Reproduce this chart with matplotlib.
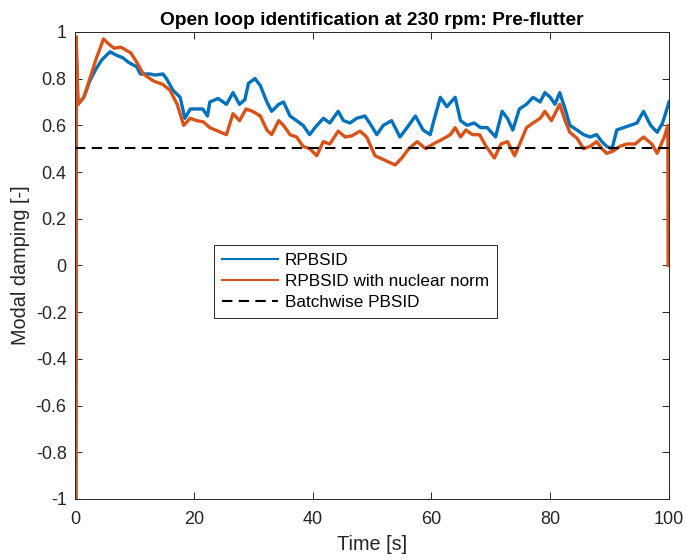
import matplotlib
matplotlib.use('Agg')
import matplotlib.pyplot as plt

# (time [s], damping)
rpbsid = [
    (0.15, -1), (0.2, 0.93), (0.5, 0.69), (1.5, 0.72), (2.5, 0.79), (3.5, 0.84),
    (4.5, 0.88), (5.9, 0.915), (7, 0.90), (8, 0.89), (9, 0.87), (10.4, 0.85),
    (11, 0.82), (12.6, 0.82), (13.5, 0.815), (14.8, 0.82), (15.4, 0.80),
    (16.5, 0.75), (17.7, 0.72), (18.5, 0.63), (19.4, 0.67), (20.5, 0.67),
    (21.5, 0.67), (22.3, 0.64), (22.7, 0.70), (24.1, 0.715), (25.5, 0.69),
    (26.6, 0.74), (27.7, 0.69), (28.6, 0.71), (29.2, 0.78), (30.3, 0.80),
    (31.2, 0.77), (32.3, 0.70), (33.1, 0.66), (34.3, 0.69), (35.1, 0.70),
    (36.2, 0.64), (37.3, 0.62), (38.4, 0.60), (39.5, 0.56), (40.4, 0.59),
    (41.8, 0.63), (42.9, 0.61), (44.3, 0.66), (45.2, 0.62), (46.3, 0.61),
    (47.4, 0.63), (48.8, 0.64), (49.6, 0.61), (50.8, 0.56), (51.9, 0.60),
    (53.3, 0.62), (54.7, 0.55), (55.9, 0.59), (57.3, 0.64), (58.6, 0.58),
    (59.8, 0.56), (60.3, 0.61), (61.5, 0.72), (62.6, 0.68), (64, 0.72),
    (64.9, 0.62), (66, 0.60), (67.2, 0.61), (68.3, 0.59), (69.4, 0.59),
    (70.8, 0.55), (71.9, 0.66), (72.8, 0.63), (73.7, 0.58), (74.8, 0.67),
    (76, 0.69), (77.1, 0.72), (78.3, 0.70), (79.1, 0.74), (80, 0.72),
    (80.8, 0.69), (81.6, 0.74), (82.5, 0.67), (83.3, 0.60), (84.5, 0.58),
    (85.6, 0.56), (86.7, 0.55), (87.8, 0.56), (88.7, 0.53), (89.5, 0.51),
    (90.4, 0.50), (91.2, 0.58), (92.3, 0.59), (93.5, 0.60), (94.6, 0.61),
    (95.7, 0.66), (96.9, 0.60), (98, 0.57), (98.9, 0.61), (100, 0.70),
]

rpbsid_nuc = [
    (0.15, -1), (0.2, 0.98), (0.5, 0.69), (1.5, 0.72), (2.5, 0.80), (3.5, 0.88),
    (4.8, 0.97), (5.6, 0.95), (6.6, 0.93), (7.7, 0.935), (9.4, 0.91),
    (10.4, 0.87), (11.5, 0.82), (13.2, 0.79), (14.8, 0.775), (16, 0.75),
    (17.2, 0.69), (18.3, 0.60), (19.4, 0.63), (20.5, 0.62), (21.6, 0.615),
    (22.7, 0.59), (24.1, 0.575), (25.5, 0.56), (26.6, 0.65), (27.7, 0.62),
    (28.8, 0.67), (29.9, 0.66), (31.2, 0.64), (32.3, 0.58), (33.1, 0.56),
    (34.3, 0.62), (35.1, 0.60), (36.2, 0.56), (37.3, 0.55), (38.4, 0.51),
    (39.5, 0.50), (40.7, 0.47), (41.8, 0.53), (42.9, 0.52), (44.3, 0.575),
    (45.5, 0.55), (46.6, 0.555), (48, 0.575), (49.1, 0.55), (50.5, 0.47),
    (52.2, 0.45), (53.9, 0.43), (55, 0.46), (56.2, 0.50), (57.6, 0.53),
    (59, 0.50), (60.3, 0.52), (61.8, 0.54), (63.2, 0.56), (64, 0.59),
    (64.9, 0.55), (65.8, 0.58), (66.9, 0.56), (68.1, 0.56), (69.2, 0.51),
    (70.6, 0.46), (71.7, 0.52), (72.8, 0.53), (74, 0.47), (75.2, 0.54),
    (76, 0.59), (77.1, 0.61), (78.3, 0.63), (79.1, 0.66), (80.2, 0.62),
    (81, 0.66), (81.6, 0.69), (82.5, 0.62), (83.3, 0.57), (84.5, 0.545),
    (85.6, 0.50), (86.7, 0.51), (87.8, 0.53), (88.7, 0.50), (89.5, 0.48),
    (90.6, 0.49), (91.7, 0.51), (92.9, 0.52), (94.3, 0.52), (95.7, 0.55),
    (97.1, 0.52), (98, 0.48), (99.2, 0.55), (99.8, 0.60), (99.85, 0.0),
]

batch_value = 0.505
labels = ['RPBSID', 'RPBSID with nuclear norm', 'Batchwise PBSID']
y_ticks = [-1, -0.8, -0.6, -0.4, -0.2, 0, 0.2, 0.4, 0.6, 0.8, 1]
x_ticks = [0, 20, 40, 60, 80, 100]

plt.rcParams['font.family'] = ['Liberation Sans', 'DejaVu Sans']
plt.rcParams['axes.unicode_minus'] = False

gray = '#262626'
fig = plt.figure(figsize=(6.86, 5.6), dpi=100)
ax = fig.add_axes([0.1093, 0.109, 0.866, 0.834])

t1, v1 = zip(*rpbsid)
t2, v2 = zip(*rpbsid_nuc)
ax.plot(t1, v1, color='#0072BD', lw=2.4, label=labels[0])
ax.plot(t2, v2, color='#D95319', lw=2.4, label=labels[1])
ax.axhline(batch_value, color='black', lw=1.5, ls=(0, (5, 3)), label=labels[2])

ax.set_xlim(0, 100)
ax.set_ylim(-1, 1)
ax.set_xticks(x_ticks)
ax.set_xticklabels([f'{v:g}' for v in x_ticks])
ax.set_yticks(y_ticks)
ax.set_yticklabels([f'{v:g}' for v in y_ticks])
ax.tick_params(direction='in', length=5, width=0.7, colors=gray,
               labelsize=13, top=True, right=True)
ax.tick_params(axis='y', pad=6)
ax.tick_params(axis='x', pad=9)
for s in ax.spines.values():
    s.set_color(gray)
    s.set_linewidth(0.7)

ax.set_xlabel('Time [s]', fontsize=14.3, color=gray, labelpad=5)
ax.set_ylabel('Modal damping [-]', fontsize=14.3, color=gray, labelpad=4)
ax.set_title('Open loop identification at 230 rpm: Pre-flutter',
             fontsize=13.8, fontweight='bold', pad=5)

leg = ax.legend(loc='lower left', bbox_to_anchor=(0.234, 0.388), fontsize=12.3,
                frameon=True, fancybox=False, framealpha=1, edgecolor=gray,
                handlelength=3.3, handletextpad=0.4, labelspacing=0.35,
                borderpad=0.45, borderaxespad=0)
leg.get_frame().set_linewidth(0.7)
for h in leg.get_lines():
    h.set_linewidth(1.5)

fig.savefig('out.png', dpi=100)
